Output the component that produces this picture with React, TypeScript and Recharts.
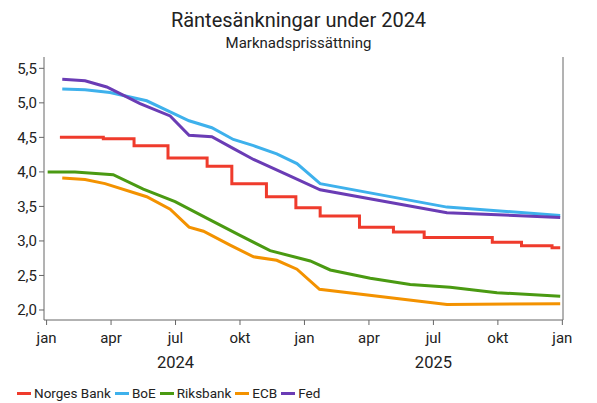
import { Line, LineChart, XAxis, YAxis } from "recharts"

// x = months since jan 2024
const monthTicks = [0, 3, 6, 9, 12, 15, 18, 21, 24]
const monthLabels = ["jan", "apr", "jul", "okt", "jan", "apr", "jul", "okt", "jan"]
const yearTicks = [6, 18]
const yearLabels = ["2024", "2025"]
const rateTicks = [2, 2.5, 3, 3.5, 4, 4.5, 5, 5.5]

const norgesBank = [
  { m: 0.62, v: 4.5 }, { m: 2.64, v: 4.48 }, { m: 4.07, v: 4.38 }, { m: 5.65, v: 4.2 },
  { m: 7.47, v: 4.08 }, { m: 8.62, v: 3.83 }, { m: 10.23, v: 3.64 }, { m: 11.6, v: 3.48 },
  { m: 12.73, v: 3.36 }, { m: 14.56, v: 3.2 }, { m: 16.14, v: 3.13 }, { m: 17.57, v: 3.05 },
  { m: 20.74, v: 2.98 }, { m: 22.1, v: 2.93 }, { m: 23.52, v: 2.9 }, { m: 23.9, v: 2.9 },
]
const boe = [
  { m: 0.73, v: 5.2 }, { m: 1.79, v: 5.19 }, { m: 2.95, v: 5.15 }, { m: 4.66, v: 5.03 },
  { m: 5.75, v: 4.87 }, { m: 6.63, v: 4.74 }, { m: 7.69, v: 4.64 }, { m: 8.69, v: 4.47 },
  { m: 9.63, v: 4.38 }, { m: 10.71, v: 4.26 }, { m: 11.65, v: 4.12 }, { m: 12.73, v: 3.83 },
  { m: 18.63, v: 3.49 }, { m: 23.9, v: 3.37 },
]
const riksbank = [
  { m: 0.05, v: 4.0 }, { m: 1.32, v: 4.0 }, { m: 3.1, v: 3.96 }, { m: 4.5, v: 3.75 },
  { m: 5.98, v: 3.57 }, { m: 7.45, v: 3.33 }, { m: 9.0, v: 3.08 }, { m: 10.4, v: 2.86 },
  { m: 12.27, v: 2.71 }, { m: 13.2, v: 2.58 }, { m: 15.06, v: 2.46 }, { m: 16.92, v: 2.37 },
  { m: 18.78, v: 2.33 }, { m: 20.96, v: 2.25 }, { m: 23.9, v: 2.2 },
]
const ecb = [
  { m: 0.73, v: 3.91 }, { m: 1.79, v: 3.89 }, { m: 2.72, v: 3.83 }, { m: 4.66, v: 3.64 },
  { m: 5.75, v: 3.46 }, { m: 6.63, v: 3.2 }, { m: 7.3, v: 3.14 }, { m: 8.54, v: 2.94 },
  { m: 9.63, v: 2.77 }, { m: 10.71, v: 2.72 }, { m: 11.65, v: 2.59 }, { m: 12.7, v: 2.3 },
  { m: 18.63, v: 2.08 }, { m: 23.9, v: 2.09 },
]
const fed = [
  { m: 0.73, v: 5.34 }, { m: 1.79, v: 5.32 }, { m: 2.8, v: 5.23 }, { m: 4.35, v: 4.99 },
  { m: 5.75, v: 4.81 }, { m: 6.63, v: 4.53 }, { m: 7.69, v: 4.51 }, { m: 8.68, v: 4.34 },
  { m: 9.63, v: 4.18 }, { m: 11.34, v: 3.94 }, { m: 12.73, v: 3.74 }, { m: 18.63, v: 3.41 },
  { m: 23.9, v: 3.34 },
]

const seriesNames = ["Norges Bank", "BoE", "Riksbank", "ECB", "Fed"]
const seriesData = [norgesBank, boe, riksbank, ecb, fed]
const colors = ["#EF3B2C", "#3EB1EC", "#4A9A12", "#F39200", "#6A3CB5"]

const font = "Roboto, sans-serif"
const textColor = "#222"
const axisColor = "#666"

const fmt = (v: number) => v.toFixed(1).replace(".", ",")

function MonthTick(props: any) {
  const { x, y, payload } = props
  const i = monthTicks.indexOf(payload.value)
  const yi = yearTicks.indexOf(payload.value)
  return (
    <g>
      <text x={x} y={y + 16} textAnchor="middle" fontSize={15} fill={textColor} fontFamily={font}>
        {monthLabels[i]}
      </text>
      {yi >= 0 && (
        <text x={x} y={y + 41} textAnchor="middle" fontSize={16.5} fill={textColor} fontFamily={font}>
          {yearLabels[yi]}
        </text>
      )}
    </g>
  )
}

export default function App() {
  return (
    <div style={{ position: "absolute", left: 0, top: 0, width: 597, height: 403, background: "#fff", fontFamily: font }}>
      <div style={{ position: "absolute", top: 8, width: 597, textAlign: "center", fontSize: 20, color: textColor }}>
        Räntesänkningar under 2024
      </div>
      <div style={{ position: "absolute", top: 34, width: 597, textAlign: "center", fontSize: 15, color: textColor }}>
        Marknadsprissättning
      </div>
      <LineChart width={597} height={403} margin={{ top: 57, right: 0, bottom: 38, left: 0 }}>
        <XAxis
          dataKey="m"
          type="number"
          domain={[-0.12, 24.03]}
          ticks={monthTicks}
          allowDataOverflow
          stroke={axisColor}
          tickSize={5}
          height={45}
          tick={<MonthTick />}
        />
        <YAxis
          yAxisId="left"
          type="number"
          domain={[1.855, 5.664]}
          ticks={rateTicks}
          width={44}
          stroke={axisColor}
          tickSize={5}
          tickFormatter={fmt}
          tick={{ fill: textColor, fontSize: 15, fontFamily: font }}
        />
        <YAxis
          yAxisId="right"
          orientation="right"
          type="number"
          domain={[1.855, 5.664]}
          ticks={rateTicks}
          width={34}
          stroke={axisColor}
          tickSize={5}
          tickFormatter={fmt}
          tick={{ fill: textColor, fontSize: 15, fontFamily: font }}
        />
        {seriesData.map((d, i) => (
          <Line
            key={seriesNames[i]}
            yAxisId="left"
            data={d}
            dataKey="v"
            type={i === 0 ? "stepAfter" : "linear"}
            stroke={colors[i]}
            strokeWidth={3}
            dot={false}
            isAnimationActive={false}
          />
        ))}
      </LineChart>
      <div style={{ position: "absolute", left: 17, top: 385, display: "flex", fontSize: 13.5, color: textColor }}>
        {seriesNames.map((n, i) => (
          <div key={n} style={{ display: "flex", alignItems: "center", marginRight: 4 }}>
            <span style={{ display: "inline-block", width: 14, height: 3, background: colors[i], marginRight: 3 }} />
            {n}
          </div>
        ))}
      </div>
    </div>
  )
}
